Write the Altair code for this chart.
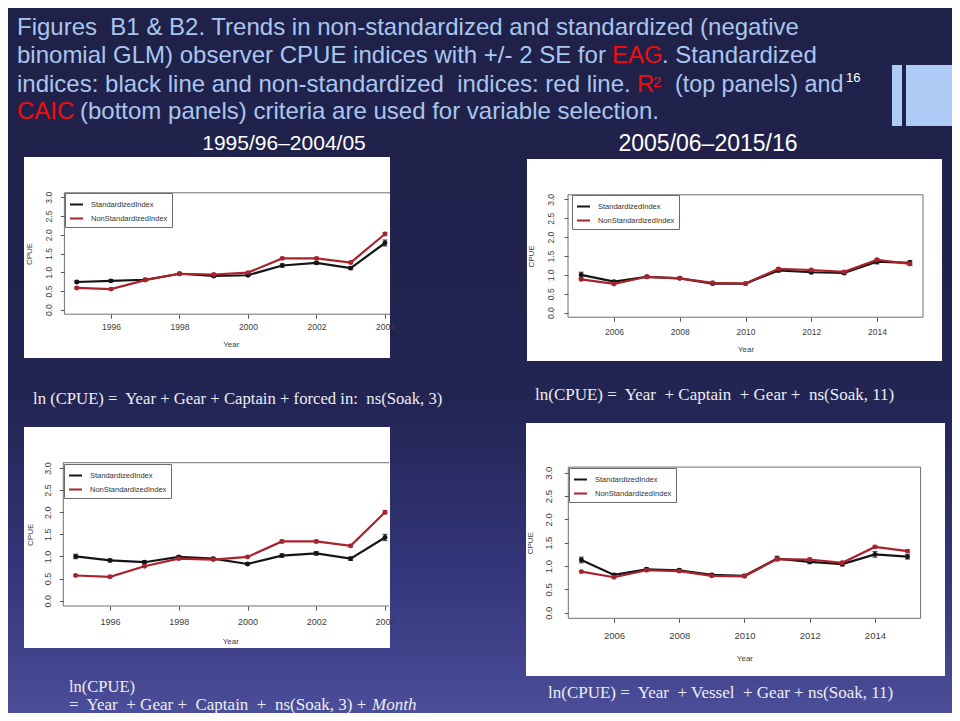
import altair as alt
import pandas as pd

# ---------------- data ----------------
YEARS_A = [1995, 1996, 1997, 1998, 1999, 2000, 2001, 2002, 2003, 2004]
YEARS_B = [2005, 2006, 2007, 2008, 2009, 2010, 2011, 2012, 2013, 2014, 2015]

SERIES = ["StandardizedIndex", "NonStandardizedIndex"]
SERIES_COLORS = ["#151515", "#a8232e"]

# top-left: 1995/96-2004/05, R2 selection
TL_STD = [0.74, 0.77, 0.80, 0.96, 0.90, 0.92, 1.18, 1.25, 1.11, 1.78]
TL_STD_SE = [0.03, 0.03, 0.03, 0.03, 0.03, 0.03, 0.04, 0.04, 0.04, 0.08]
TL_NON = [0.58, 0.55, 0.79, 0.96, 0.94, 0.99, 1.37, 1.37, 1.26, 2.02]
TL_NON_SE = [0.02, 0.02, 0.02, 0.02, 0.02, 0.02, 0.03, 0.03, 0.03, 0.04]

# top-right: 2005/06-2015/16, R2 selection
TR_STD = [1.00, 0.82, 0.95, 0.91, 0.77, 0.77, 1.12, 1.07, 1.05, 1.35, 1.32]
TR_STD_SE = [0.07, 0.03, 0.03, 0.03, 0.03, 0.03, 0.05, 0.04, 0.04, 0.06, 0.06]
TR_NON = [0.88, 0.76, 0.95, 0.91, 0.79, 0.77, 1.16, 1.13, 1.08, 1.40, 1.29]
TR_NON_SE = [0.02, 0.02, 0.02, 0.02, 0.02, 0.02, 0.03, 0.03, 0.03, 0.03, 0.03]

# bottom-left: 1995/96-2004/05, CAIC selection
BL_STD = [1.00, 0.91, 0.87, 0.99, 0.95, 0.83, 1.02, 1.07, 0.95, 1.43]
BL_STD_SE = [0.05, 0.03, 0.03, 0.03, 0.03, 0.03, 0.04, 0.04, 0.04, 0.07]
BL_NON = [0.57, 0.54, 0.78, 0.95, 0.93, 0.99, 1.34, 1.34, 1.24, 2.00]
BL_NON_SE = [0.02, 0.02, 0.02, 0.02, 0.02, 0.02, 0.03, 0.03, 0.03, 0.04]

# bottom-right: 2005/06-2015/16, CAIC selection
BR_STD = [1.13, 0.81, 0.93, 0.91, 0.81, 0.79, 1.16, 1.09, 1.04, 1.25, 1.20]
BR_STD_SE = [0.06, 0.03, 0.03, 0.03, 0.03, 0.03, 0.05, 0.04, 0.04, 0.06, 0.05]
BR_NON = [0.88, 0.76, 0.91, 0.89, 0.79, 0.78, 1.15, 1.14, 1.07, 1.41, 1.32]
BR_NON_SE = [0.02, 0.02, 0.02, 0.02, 0.02, 0.02, 0.03, 0.03, 0.03, 0.03, 0.03]

X_TICKS_A = [1996, 1998, 2000, 2002, 2004]
X_TICKS_B = [2006, 2008, 2010, 2012, 2014]
Y_TICKS = [0.0, 0.5, 1.0, 1.5, 2.0, 2.5, 3.0]
X_TITLE = "Year"
Y_TITLE = "CPUE"

TITLE_LINE1 = "Figures\u00a0 B1 & B2. Trends in non-standardized and standardized (negative"
TITLE_LINE2A = "binomial GLM) observer CPUE indices with +/- 2 SE for"
TITLE_LINE2B = "EAG"
TITLE_LINE2C = ". Standardized"
TITLE_LINE3A = "indices: black line and non-standardized\u00a0 indices: red line."
TITLE_LINE3B = "R"
TITLE_LINE3C = "2"
TITLE_LINE3D = "(top panels) and"
SLIDE_NO = "16"
TITLE_LINE4A = "CAIC"
TITLE_LINE4B = "(bottom panels) criteria are used for variable selection."
PERIOD_A = "1995/96\u20132004/05"
PERIOD_B = "2005/06\u20132015/16"

FORMULA_TL = "ln (CPUE) =\u00a0 Year + Gear + Captain + forced in:\u00a0 ns(Soak, 3)"
FORMULA_TR = "ln(CPUE) =\u00a0 Year\u00a0 + Captain\u00a0 + Gear +\u00a0 ns(Soak, 11)"
FORMULA_BL1 = "ln(CPUE)"
FORMULA_BL2 = "=\u00a0 Year\u00a0 + Gear +\u00a0 Captain\u00a0 +\u00a0 ns(Soak, 3) +"
FORMULA_BL3 = "Month"
FORMULA_BR = "ln(CPUE) =\u00a0 Year\u00a0 + Vessel\u00a0 + Gear + ns(Soak, 11)"

# ---------------- layout (pixels, chart coordinates) ----------------
W, H = 944, 705
TXT_BLUE = "#a9c6ef"
TXT_RED = "#f20d0d"
SANS = "Liberation Sans"
SERIF = "Liberation Serif"

PANELS = [
    dict(name="tl", years=YEARS_A, std=TL_STD, std_se=TL_STD_SE, non=TL_NON, non_se=TL_NON_SE,
         xticks=X_TICKS_A, xdom=[1994.64, 2004.36], xrange=[56.4, 389.3], yrange=[306.2, 184.8],
         cut=2004.15, bg=(16, 382, 149, 350), legend=(57, 185), fs=8.5, tfs=8,
         xlp=4, xtp=9.5, ylp=7, ytp=10.5),
    dict(name="tr", years=YEARS_B, std=TR_STD, std_se=TR_STD_SE, non=TR_NON, non_se=TR_NON_SE,
         xticks=X_TICKS_B, xdom=[2004.6, 2015.4], xrange=[560.0, 915.0], yrange=[309.2, 186.8],
         cut=None, bg=(519, 934, 151, 353), legend=(564, 187), fs=8.5, tfs=8,
         xlp=6.5, xtp=9, ylp=9, ytp=10.5),
    dict(name="bl", years=YEARS_A, std=BL_STD, std_se=BL_STD_SE, non=BL_NON, non_se=BL_NON_SE,
         xticks=X_TICKS_A, xdom=[1994.64, 2004.36], xrange=[55.3, 389.4], yrange=[598.0, 454.7],
         cut=2004.12, bg=(16, 382, 419, 640), legend=(56, 456), fs=9, tfs=8,
         xlp=7, xtp=11.5, ylp=7, ytp=9),
    dict(name="br", years=YEARS_B, std=BR_STD, std_se=BR_STD_SE, non=BR_NON, non_se=BR_NON_SE,
         xticks=X_TICKS_B, xdom=[2004.6, 2015.4], xrange=[560.3, 912.6], yrange=[610.3, 459.1],
         cut=None, bg=(518, 937, 415, 668), legend=(561, 460), fs=9.5, tfs=8,
         xlp=8.5, xtp=14, ylp=10.5, ytp=9),
]

ONE = pd.DataFrame({"k": [0]})


def series_frame(years, std, std_se, non, non_se):
    rows = []
    for s, vals, ses in ((SERIES[0], std, std_se), (SERIES[1], non, non_se)):
        for yr, v, e in zip(years, vals, ses):
            rows.append({"year": yr, "cpue": v, "lo": v - e, "hi": v + e, "series": s})
    return pd.DataFrame(rows)


def text_layer(txt, x, y, size, color, font=SANS, align="left", style="normal"):
    return alt.Chart(ONE).mark_text(
        text=txt, align=align, baseline="alphabetic", font=font, fontSize=size,
        color=color, fontStyle=style,
    ).encode(x=alt.value(x), y=alt.value(y))


def panel_layers(p):
    layers = []
    x0, x1, y0, y1 = p["bg"]
    layers.append(alt.Chart(ONE).mark_rect(color="white").encode(
        x=alt.value(x0), x2=alt.value(x1), y=alt.value(y0), y2=alt.value(y1)))

    xs = alt.Scale(domain=p["xdom"], range=p["xrange"], nice=False, zero=False)
    ys = alt.Scale(domain=[-0.12, 3.12], range=p["yrange"], nice=False, zero=False)
    cs = alt.Scale(domain=SERIES, range=SERIES_COLORS)

    xl, xr = p["xdom"]
    xr_cut = p["cut"] if p["cut"] else xr
    edges = [
        {"x": xl, "x2": xl, "y": -0.12, "y2": 3.12},
        {"x": xl, "x2": xr_cut, "y": -0.12, "y2": -0.12},
        {"x": xl, "x2": xr_cut, "y": 3.12, "y2": 3.12},
    ]
    if not p["cut"]:
        edges.append({"x": xr, "x2": xr, "y": -0.12, "y2": 3.12})
    edges = pd.DataFrame(edges)

    box_left = p["xrange"][0]
    box_bottom = p["yrange"][0]
    common = dict(labelFont=SANS, titleFont=SANS, labelColor="#3c3c3c", titleColor="#3c3c3c",
                  tickColor="#555555", tickSize=4, domain=False, grid=False, zindex=1,
                  labelFontSize=p["fs"], titleFontSize=p["tfs"], titleFontWeight="normal",
                  labelFlush=False, labelOverlap=False)
    xaxis = alt.Axis(orient="bottom", offset=box_bottom - H, values=p["xticks"], format="d",
                     title=X_TITLE, labelPadding=p["xlp"], titlePadding=p["xtp"], **common)
    yaxis = alt.Axis(orient="left", offset=-box_left, values=Y_TICKS, format=".1f",
                     labelAngle=270, title=Y_TITLE, labelPadding=p["ylp"],
                     titlePadding=p["ytp"], **common)

    layers.append(alt.Chart(edges).mark_rule(color="#707070", strokeWidth=1).encode(
        x=alt.X("x:Q", scale=xs, axis=xaxis), x2="x2:Q",
        y=alt.Y("y:Q", scale=ys, axis=yaxis), y2="y2:Q"))

    df = series_frame(p["years"], p["std"], p["std_se"], p["non"], p["non_se"])
    X = alt.X("year:Q", scale=xs, axis=None)
    col_nolegend = alt.Color("series:N", scale=cs, legend=None)
    lx, ly = p["legend"]
    col_legend = alt.Color("series:N", scale=cs, legend=alt.Legend(
        orient="none", legendX=lx, legendY=ly, title=None, fillColor="white",
        strokeColor="#6a6a6a", padding=4, labelFontSize=7.5, labelFont=SANS,
        labelColor="#333333", symbolType="stroke", symbolStrokeWidth=2,
        symbolSize=169, labelOffset=7, rowPadding=2, cornerRadius=0))

    for s in SERIES:
        sub = df[df["series"] == s]
        layers.append(alt.Chart(sub).mark_rule(strokeWidth=1.2).encode(
            x=X, y=alt.Y("lo:Q", scale=ys, axis=None), y2="hi:Q", color=col_nolegend))
        layers.append(alt.Chart(sub).mark_tick(orient="horizontal", size=5, thickness=1.2).encode(
            x=X, y=alt.Y("lo:Q", scale=ys, axis=None), color=col_nolegend))
        layers.append(alt.Chart(sub).mark_tick(orient="horizontal", size=5, thickness=1.2).encode(
            x=X, y=alt.Y("hi:Q", scale=ys, axis=None), color=col_nolegend))
        layers.append(alt.Chart(sub).mark_line(strokeWidth=2.2).encode(
            x=X, y=alt.Y("cpue:Q", scale=ys, axis=None),
            color=col_legend if s == SERIES[0] else col_nolegend))
        layers.append(alt.Chart(sub).mark_circle(size=24, opacity=1).encode(
            x=X, y=alt.Y("cpue:Q", scale=ys, axis=None), color=col_nolegend))
    return layers


layers = []
# slide background
layers.append(alt.Chart(ONE).mark_rect(
    color=alt.Gradient(
        gradient="linear", x1=0, x2=0, y1=0, y2=1,
        stops=[alt.GradientStop(offset=0, color="#1f2148"),
               alt.GradientStop(offset=0.55, color="#222452"),
               alt.GradientStop(offset=0.8, color="#33367a"),
               alt.GradientStop(offset=1, color="#4b4e98")])
).encode(x=alt.value(0), x2=alt.value(W), y=alt.value(0), y2=alt.value(H)))
# decorative blue bars
layers.append(alt.Chart(ONE).mark_rect(color="#aecbf5").encode(
    x=alt.value(884), x2=alt.value(894), y=alt.value(57), y2=alt.value(118)))
layers.append(alt.Chart(ONE).mark_rect(color="#aecbf5").encode(
    x=alt.value(898), x2=alt.value(W), y=alt.value(57), y2=alt.value(118)))

for p in PANELS:
    layers.extend(panel_layers(p))

# slide title
layers += [
    text_layer(TITLE_LINE1, 9, 27, 24, TXT_BLUE),
    text_layer(TITLE_LINE2A, 9, 55, 24, TXT_BLUE),
    text_layer(TITLE_LINE2B, 604, 55, 24, TXT_RED),
    text_layer(TITLE_LINE2C, 654, 55, 24, TXT_BLUE),
    text_layer(TITLE_LINE3A, 9, 84, 24, TXT_BLUE),
    text_layer(TITLE_LINE3B, 629, 84, 24, TXT_RED),
    text_layer(TITLE_LINE3C, 645, 79, 15, TXT_RED),
    text_layer(TITLE_LINE3D, 667, 84, 23.3, TXT_BLUE),
    text_layer(SLIDE_NO, 838, 74, 13, "white"),
    text_layer(TITLE_LINE4A, 9, 111, 24, TXT_RED),
    text_layer(TITLE_LINE4B, 72, 111, 24, TXT_BLUE),
    text_layer(PERIOD_A, 276, 142, 21, "white", align="center"),
    text_layer(PERIOD_B, 700, 143, 23, "white", align="center"),
]
# model formulas
FORM_COL = "#ededf4"
layers += [
    text_layer(FORMULA_TL, 25, 396, 16.7, FORM_COL, font=SERIF),
    text_layer(FORMULA_TR, 527, 392, 17, FORM_COL, font=SERIF),
    text_layer(FORMULA_BL1, 61, 684, 16.5, FORM_COL, font=SERIF),
    text_layer(FORMULA_BL2, 61, 702, 17, FORM_COL, font=SERIF),
    text_layer(FORMULA_BL3, 364, 702, 17, FORM_COL, font=SERIF, style="italic"),
    text_layer(FORMULA_BR, 540, 690, 17, FORM_COL, font=SERIF),
]

chart = (
    alt.layer(*layers)
    .resolve_scale(x="independent", y="independent", color="independent")
    .resolve_axis(x="independent", y="independent")
    .resolve_legend(color="independent")
    .properties(width=W, height=H, padding=0, autosize=alt.AutoSizeParams(type="none"))
    .configure_view(strokeWidth=0)
)

chart.save("out.html", embed_options={"renderer": "svg", "actions": False})
